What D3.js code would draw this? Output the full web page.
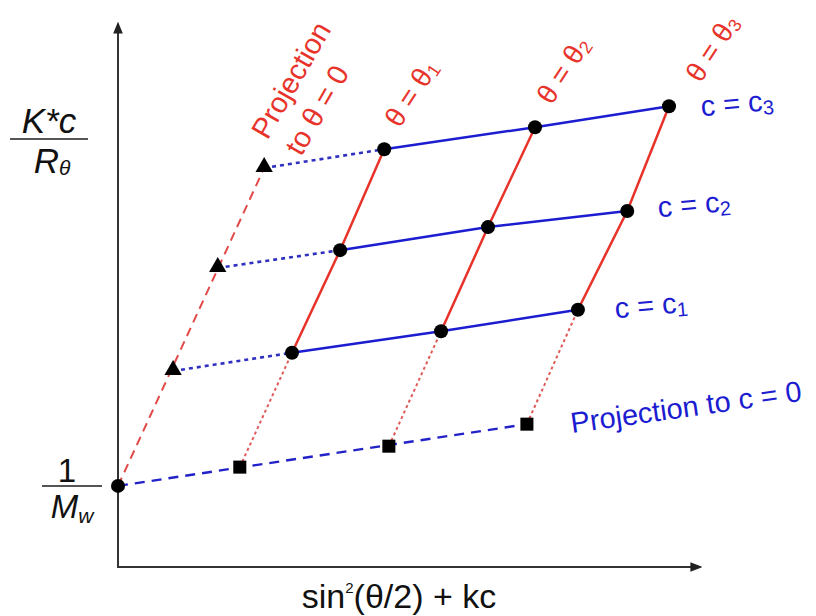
<!DOCTYPE html>
<meta charset="utf-8">
<style>
body { margin: 0; background: #fff; }
text { font-family: "Liberation Sans", Arial, sans-serif; }
</style>
<body>
<script src="https://d3js.org/d3.v7.min.js"></script>
<script>

// Zimm plot values (x = sin^2(theta/2) + kc, y = K*c/R)
var concNames = ["1", "2", "3"];
var thetaNames = ["1", "2", "3"];
var origin = [0, 1.51];
// grid points, one row per concentration
var gridX = [[3.00, 5.57, 7.93], [3.83, 6.38, 8.78], [4.59, 7.19, 9.50]];
var gridY = [[3.99, 4.39, 4.79], [5.90, 6.33, 6.63], [7.78, 8.19, 8.58]];
// projections to theta = 0 (one per concentration)
var triX = [0.95, 1.72, 2.52];
var triY = [3.65, 5.57, 7.43];
// projections to c = 0 (one per angle)
var sqX = [2.10, 4.67, 7.05];
var sqY = [1.86, 2.25, 2.66];

var width = 816, height = 616;
var red = "#e8332b", blue = "#1c1cd0";

var svg = d3.select("body").append("svg")
    .attr("width", width)
    .attr("height", height);

var x = d3.scaleLinear().domain([0, 10]).range([118, 698]);
var y = d3.scaleLinear().domain([0, 10]).range([567, 30]);

var defs = svg.append("defs");
defs.append("marker")
    .attr("id", "arrow")
    .attr("viewBox", "0 0 10 10")
    .attr("refX", 8).attr("refY", 5)
    .attr("markerWidth", 6).attr("markerHeight", 6)
    .attr("orient", "auto")
  .append("path")
    .attr("d", "M0,1 L10,5 L0,9 Z")
    .attr("fill", "#222");

// axes
svg.append("line")
    .attr("x1", x(0)).attr("y1", y(0))
    .attr("x2", x(0)).attr("y2", y(10) - 6)
    .attr("stroke", "#333").attr("stroke-width", 2)
    .attr("marker-end", "url(#arrow)");
svg.append("line")
    .attr("x1", x(0) - 1).attr("y1", y(0))
    .attr("x2", x(10) + 2).attr("y2", y(0))
    .attr("stroke", "#333").attr("stroke-width", 2)
    .attr("marker-end", "url(#arrow)");

function seg(x1, y1, x2, y2, color, w, dash) {
  svg.append("line")
      .attr("x1", x(x1)).attr("y1", y(y1))
      .attr("x2", x(x2)).attr("y2", y(y2))
      .attr("stroke", color)
      .attr("stroke-width", w)
      .attr("stroke-dasharray", dash);
}

// red dashed: extrapolation to theta = 0
seg(origin[0], origin[1], triX[2], triY[2], "#e24a4a", 2, "9,6");
// blue dashed: extrapolation to c = 0
seg(origin[0], origin[1], sqX[2], sqY[2], "#2222c8", 2.4, "10,7");

// dotted projections
concNames.forEach(function(c, i) {
  seg(triX[i], triY[i], gridX[i][0], gridY[i][0], "#3030c0", 2.6, "4,4");
});
thetaNames.forEach(function(t, j) {
  seg(sqX[j], sqY[j], gridX[0][j], gridY[0][j], "#e05a5a", 2, "3,3");
});

// solid lines
var line = d3.line().x(function(d) { return x(d[0]); }).y(function(d) { return y(d[1]); });
thetaNames.forEach(function(t, j) {
  svg.append("path")
      .attr("d", line(gridX.map(function(r, i) { return [r[j], gridY[i][j]]; })))
      .attr("fill", "none").attr("stroke", red).attr("stroke-width", 2.5);
});
concNames.forEach(function(c, i) {
  svg.append("path")
      .attr("d", line(gridX[i].map(function(v, j) { return [v, gridY[i][j]]; })))
      .attr("fill", "none").attr("stroke", blue).attr("stroke-width", 2.5);
});

// markers
var pts = [origin];
gridX.forEach(function(r, i) { r.forEach(function(v, j) { pts.push([v, gridY[i][j]]); }); });
svg.selectAll("circle.pt").data(pts).enter().append("circle")
    .attr("class", "pt")
    .attr("cx", function(d) { return x(d[0]); })
    .attr("cy", function(d) { return y(d[1]); })
    .attr("r", 7).attr("fill", "#000");

var tri = d3.symbol().type(d3.symbolTriangle).size(130);
svg.selectAll("path.tri").data(triX).enter().append("path")
    .attr("class", "tri")
    .attr("d", tri)
    .attr("transform", function(d, i) { return "translate(" + x(d) + "," + (y(triY[i]) - 1) + ")"; })
    .attr("fill", "#000");

var sq = d3.symbol().type(d3.symbolSquare).size(170);
svg.selectAll("path.sq").data(sqX).enter().append("path")
    .attr("class", "sq")
    .attr("d", sq)
    .attr("transform", function(d, i) { return "translate(" + x(d) + "," + y(sqY[i]) + ")"; })
    .attr("fill", "#000");

// theta labels
var thPos = [[411, 93], [563, 70], [712, 48]];
thetaNames.forEach(function(t, j) {
  var tx = svg.append("text")
      .attr("transform", "translate(" + thPos[j][0] + "," + thPos[j][1] + ") rotate(-57)")
      .attr("text-anchor", "middle")
      .attr("dominant-baseline", "central")
      .attr("fill", red)
      .attr("font-size", 28);
  tx.append("tspan").text("\u03b8 = \u03b8");
  tx.append("tspan").attr("font-size", 18).attr("dy", 7).text(t);
});

// projection to theta = 0
svg.append("text")
    .attr("transform", "translate(291,80) rotate(-60)")
    .attr("text-anchor", "middle").attr("dominant-baseline", "central")
    .attr("fill", red).attr("font-size", 29)
    .text("Projection");
svg.append("text")
    .attr("transform", "translate(317,110) rotate(-60)")
    .attr("text-anchor", "middle").attr("dominant-baseline", "central")
    .attr("fill", red).attr("font-size", 29)
    .text("to \u03b8 = 0");

// concentration labels
var cPos = [[693, 305], [694, 204], [737, 103]];
cPos[0][0] = 651;
concNames.forEach(function(c, i) {
  var tx = svg.append("text")
      .attr("transform", "translate(" + cPos[i][0] + "," + cPos[i][1] + ") rotate(-5)")
      .attr("text-anchor", "middle")
      .attr("dominant-baseline", "central")
      .attr("fill", blue)
      .attr("font-size", 29);
  tx.append("tspan").text("c = c");
  tx.append("tspan").attr("font-size", 20).attr("dy", 7).text(c);
});

svg.append("text")
    .attr("transform", "translate(686,407) rotate(-8)")
    .attr("text-anchor", "middle").attr("dominant-baseline", "central")
    .attr("fill", blue).attr("font-size", 29)
    .text("Projection to c = 0");

// y-axis label K*c / R_theta
svg.append("text")
    .attr("x", 49).attr("y", 133)
    .attr("text-anchor", "middle")
    .attr("font-size", 35).attr("font-style", "italic").attr("fill", "#111")
    .text("K*c");
svg.append("line")
    .attr("x1", 10).attr("x2", 88).attr("y1", 139).attr("y2", 139)
    .attr("stroke", "#555").attr("stroke-width", 2);
var rt = svg.append("text")
    .attr("x", 52).attr("y", 173)
    .attr("text-anchor", "middle")
    .attr("font-size", 35).attr("font-style", "italic").attr("fill", "#111");
rt.append("tspan").text("R");
rt.append("tspan").attr("font-size", 21).attr("dy", 2).text("\u03b8");

// 1 / M_w
svg.append("text")
    .attr("x", 67).attr("y", 482)
    .attr("text-anchor", "middle")
    .attr("font-size", 33).attr("fill", "#111")
    .text("1");
svg.append("line")
    .attr("x1", 42).attr("x2", 102).attr("y1", 486).attr("y2", 486)
    .attr("stroke", "#555").attr("stroke-width", 2);
var mw = svg.append("text")
    .attr("x", 72).attr("y", 518)
    .attr("text-anchor", "middle")
    .attr("font-size", 33).attr("font-style", "italic").attr("fill", "#111");
mw.append("tspan").text("M");
mw.append("tspan").attr("font-size", 21).attr("dy", 5).text("w");

// x-axis label
var xl = svg.append("text")
    .attr("x", 399).attr("y", 608)
    .attr("text-anchor", "middle")
    .attr("font-size", 34).attr("fill", "#111");
xl.append("tspan").text("sin");
xl.append("tspan").attr("font-size", 15).attr("dy", -15).text("2");
xl.append("tspan").attr("dy", 15).text("(\u03b8/2) + kc");

</script>
</body>
